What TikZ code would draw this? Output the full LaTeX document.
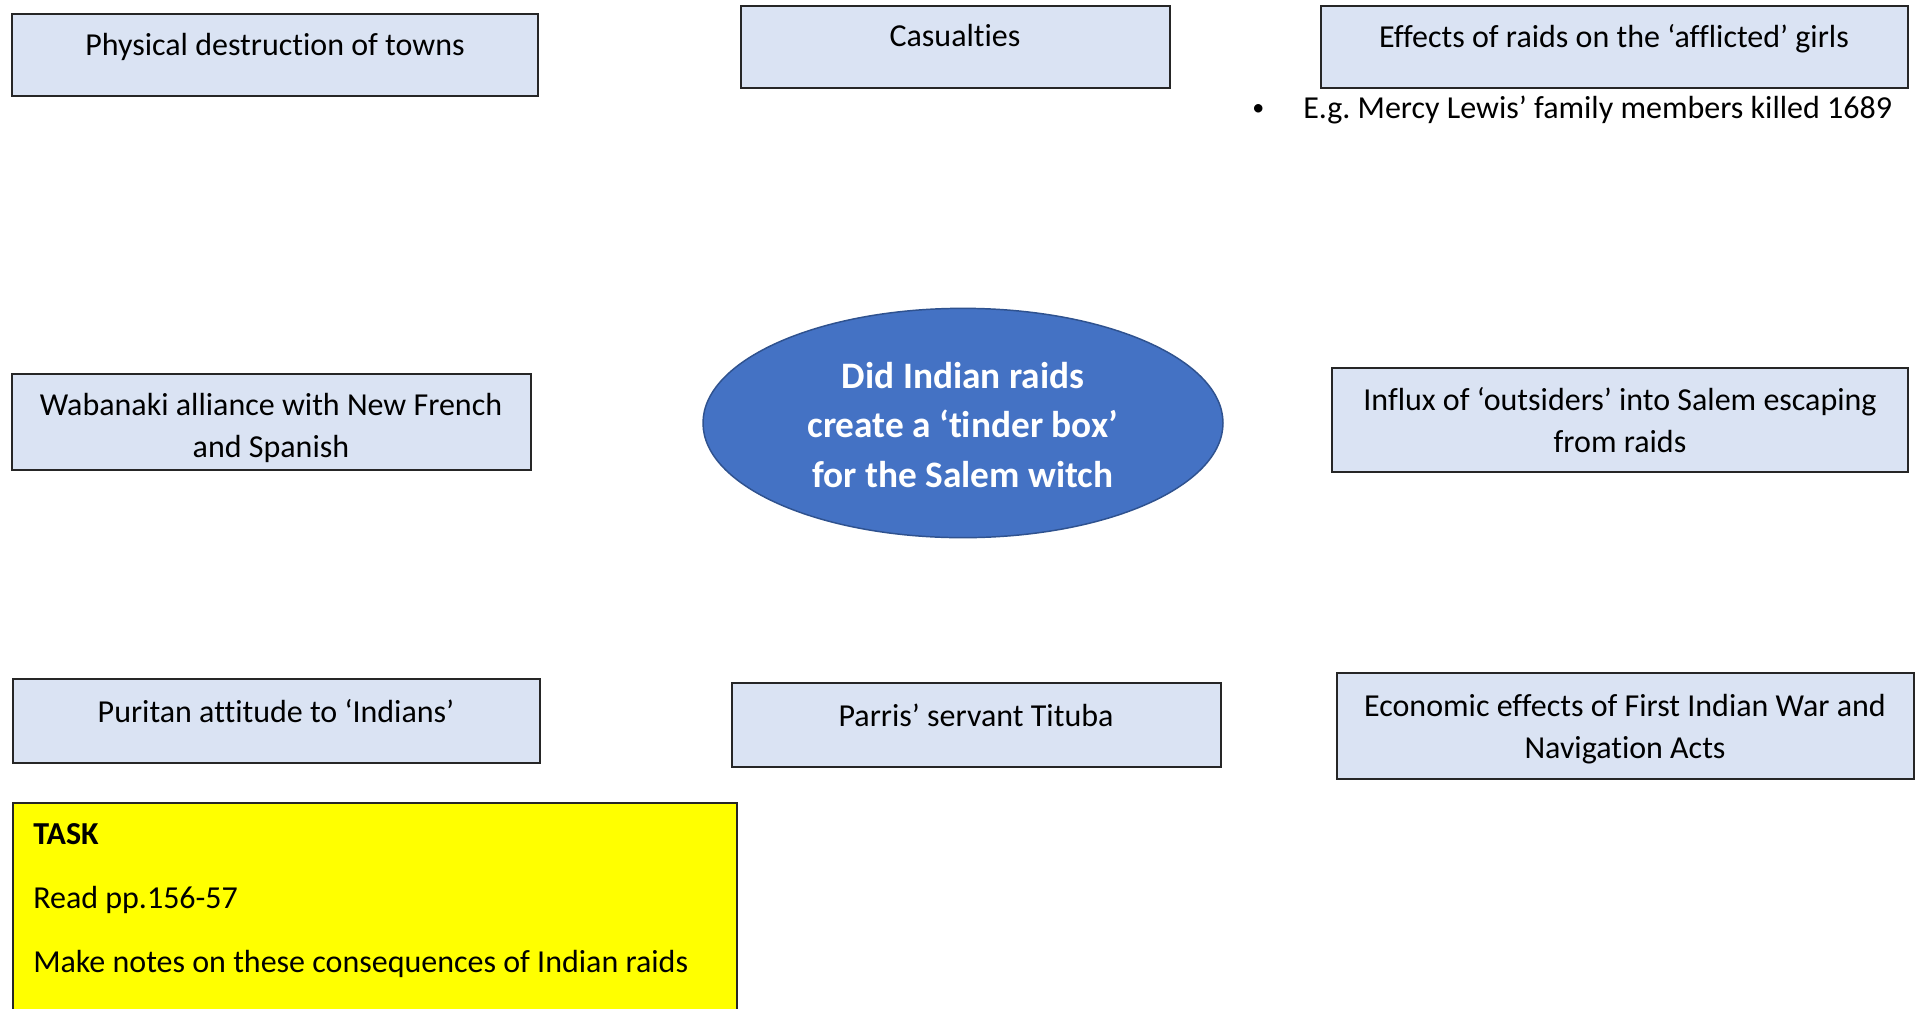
\documentclass[tikz,border=0pt]{standalone}
\usepackage{fontspec}
\setmainfont{Carlito}[Ligatures=NoCommon]
\frenchspacing
\usetikzlibrary{shapes.geometric}
\definecolor{boxfill}{HTML}{DAE3F3}
\definecolor{ellfill}{HTML}{4472C4}
\definecolor{elldraw}{HTML}{2F528F}
\definecolor{taskfill}{HTML}{FFFF00}
\tikzset{
  topic/.style={draw=black!85, line width=1.1pt, fill=boxfill, inner sep=0pt},
  lbl/.style={inner sep=0pt, align=center, font=\fontsize{24}{32}\selectfont},
  note/.style={inner sep=0pt, anchor=west, font=\fontsize{24}{32}\selectfont},
  question/.style={ellipse, draw=elldraw, line width=1.1pt, fill=ellfill, inner sep=0pt,
    minimum width=390pt, minimum height=172pt},
  qtext/.style={inner sep=0pt, align=center, text=white,
    font=\fontsize{28}{37}\selectfont\bfseries},
  taskbox/.style={draw=black!85, line width=1.1pt, fill=taskfill, inner sep=0pt},
}
\begin{document}
\begin{tikzpicture}[x=0.75pt,y=-0.75pt]
\useasboundingbox (0,0) rectangle (1923,1008);
\clip (0,0) rectangle (1923,1008);
\fill[white] (0,0) rectangle (1923,1008);

% top row
\draw[topic] (12,14) rectangle (538,96);
\node[lbl] (t1) at (275,47) {Physical destruction of towns};
\draw[topic] (741,6) rectangle (1170,88);
\node[lbl] (t2) at (955,36) {Casualties};
\draw[topic] (1321,6) rectangle (1908,88);
\node[lbl] (t3) at (1614,39) {Effects of raids on the ‘afflicted’ girls};
\node[note, font=\fontsize{18}{24}\selectfont] (bul) at (1252,110) {•};
\node[note] (ex) at (1303,110) {E.g. Mercy Lewis’ family members killed 1689};

% middle row
\draw[topic] (12,374) rectangle (531,470);
\node[lbl] (t4) at (271,428) {Wabanaki alliance with New French\\and Spanish};
\node[question] (q) at (963,423) {};
\node[qtext] (qt) at (963,425) {Did Indian raids\\create a ‘tinder box’\\for the Salem witch};
\draw[topic] (1332,368) rectangle (1908,472);
\node[lbl] (t5) at (1620,420) {Influx of ‘outsiders’ into Salem escaping\\from raids};

% bottom row
\draw[topic] (13,679) rectangle (540,763);
\node[lbl] (t6) at (276,711) {Puritan attitude to ‘Indians’};
\draw[topic] (732,683) rectangle (1221,767);
\node[lbl] (t7) at (976,715) {Parris’ servant Tituba};
\draw[topic] (1337,673) rectangle (1914,779);
\node[lbl] (t8) at (1625,729) {Economic effects of First Indian War and\\Navigation Acts};

% task panel
\draw[taskbox] (13,803) rectangle (737,1020);
\node[note, font=\fontsize{24}{32}\selectfont\bfseries] (task) at (33,834) {TASK};
\node[note] (read) at (33,900) {Read pp.156-57};
\node[note] (make) at (33,964) {Make notes on these consequences of Indian raids};
\end{tikzpicture}
\end{document}
